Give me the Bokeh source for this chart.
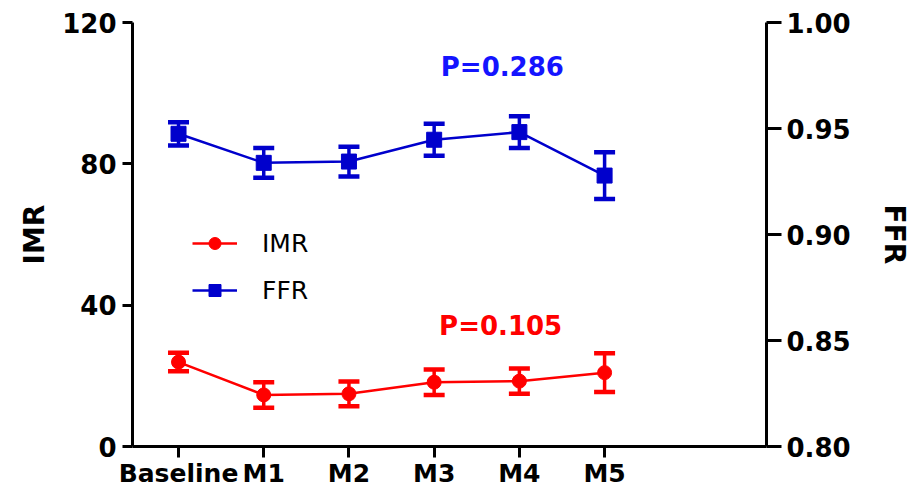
from bokeh.plotting import figure
from bokeh.models import (Range1d, LinearAxis, FixedTicker, PrintfTickFormatter,
                          Legend, LegendItem, Label, ColumnDataSource)
from bokeh.embed import file_html
from bokeh.resources import INLINE

categories = ["Baseline", "M1", "M2", "M3", "M4", "M5"]
imr_mean = [23.9, 14.6, 14.9, 18.2, 18.5, 20.9]
imr_err = [2.6, 3.6, 3.5, 3.6, 3.6, 5.5]
ffr_mean = [0.9475, 0.9338, 0.9344, 0.9447, 0.9483, 0.9278]
ffr_err = [0.0055, 0.0070, 0.0070, 0.0075, 0.0075, 0.0110]
imr_ticks = [0, 40, 80, 120]
ffr_ticks = [0.80, 0.85, 0.90, 0.95, 1.00]
p_imr = "P=0.105"
p_ffr = "P=0.286"

RED = "#FF0000"
BLUE = "#0000CC"
FONT = "DejaVu Sans"

xs = list(range(len(categories)))
imr_src = ColumnDataSource(dict(
    x=xs, y=imr_mean,
    lo=[m - e for m, e in zip(imr_mean, imr_err)],
    hi=[m + e for m, e in zip(imr_mean, imr_err)]))
ffr_src = ColumnDataSource(dict(
    x=xs, y=ffr_mean,
    lo=[m - e for m, e in zip(ffr_mean, ffr_err)],
    hi=[m + e for m, e in zip(ffr_mean, ffr_err)]))

p = figure(width=919, height=490, output_backend="svg", toolbar_location=None,
           x_range=Range1d(-0.54, 6.90), y_range=Range1d(0, 120),
           min_border_left=132, min_border_right=153, min_border_top=22,
           min_border_bottom=44)
p.outline_line_color = None
p.xgrid.visible = False
p.ygrid.visible = False
p.extra_y_ranges = {"ffr": Range1d(0.80, 1.00)}

# IMR series
p.segment(x0="x", y0="lo", x1="x", y1="hi", source=imr_src, line_color=RED, line_width=3.5)
p.scatter(x="x", y="lo", source=imr_src, marker="dash", size=21, line_color=RED, line_width=4.5)
p.scatter(x="x", y="hi", source=imr_src, marker="dash", size=21, line_color=RED, line_width=4.5)
imr_line = p.line(x="x", y="y", source=imr_src, line_color=RED, line_width=2.5)
imr_pts = p.scatter(x="x", y="y", source=imr_src, marker="circle", size=14,
                    fill_color=RED, line_color=RED)

# FFR series
p.segment(x0="x", y0="lo", x1="x", y1="hi", source=ffr_src, line_color=BLUE, line_width=3.5,
          y_range_name="ffr")
p.scatter(x="x", y="lo", source=ffr_src, marker="dash", size=21, line_color=BLUE, line_width=4.5,
          y_range_name="ffr")
p.scatter(x="x", y="hi", source=ffr_src, marker="dash", size=21, line_color=BLUE, line_width=4.5,
          y_range_name="ffr")
ffr_line = p.line(x="x", y="y", source=ffr_src, line_color=BLUE, line_width=2.5, y_range_name="ffr")
ffr_pts = p.scatter(x="x", y="y", source=ffr_src, marker="square", size=15,
                    fill_color=BLUE, line_color=BLUE, y_range_name="ffr")

def style_axis(ax, tick_out, standoff, size="26px"):
    ax.axis_line_width = 3
    ax.axis_line_color = "black"
    ax.major_tick_line_width = 3
    ax.major_tick_line_color = "black"
    ax.major_tick_in = 0
    ax.major_tick_out = tick_out
    ax.minor_tick_line_color = None
    ax.major_label_text_font = FONT
    ax.major_label_text_font_style = "bold"
    ax.major_label_text_font_size = size
    ax.major_label_text_color = "black"
    ax.major_label_standoff = standoff
    ax.axis_label_text_font = FONT
    ax.axis_label_text_font_style = "bold"
    ax.axis_label_text_font_size = "28px"
    ax.axis_label_text_color = "black"

# bottom axis
xa = p.xaxis[0]
xa.ticker = FixedTicker(ticks=xs)
xa.major_label_overrides = {i: c for i, c in enumerate(categories)}
style_axis(xa, 11, 1, "25px")

# left axis
ya = p.yaxis[0]
ya.ticker = FixedTicker(ticks=imr_ticks)
ya.axis_label = "IMR"
style_axis(ya, 10, 6)
ya.axis_label_standoff = 8

# right axis
ra = LinearAxis(y_range_name="ffr", ticker=FixedTicker(ticks=ffr_ticks),
                formatter=PrintfTickFormatter(format="%.2f"), axis_label="FFR")
style_axis(ra, 15, 5)
ra.axis_label_standoff = 24
p.add_layout(ra, "right")

# legend
legend = Legend(items=[LegendItem(label="IMR", renderers=[imr_line, imr_pts]),
                       LegendItem(label="FFR", renderers=[ffr_line, ffr_pts])],
                location=(60, 141), padding=0, margin=0, spacing=17,
                glyph_width=45, glyph_height=30, label_height=30,
                label_standoff=25, label_text_font=FONT, label_text_font_size="25px",
                label_text_color="black", background_fill_alpha=0,
                border_line_color=None)
p.add_layout(legend)

# p-values
p.add_layout(Label(x=3.8, y=0.979, y_range_name="ffr", text=p_ffr, text_align="center",
                   text_baseline="middle", text_font=FONT, text_font_style="bold",
                   text_font_size="26px", text_color="#1414FF"))
p.add_layout(Label(x=3.78, y=34.2, text=p_imr, text_align="center",
                   text_baseline="middle", text_font=FONT, text_font_style="bold",
                   text_font_size="26px", text_color=RED))

open("out.html", "w").write(file_html(p, INLINE))
